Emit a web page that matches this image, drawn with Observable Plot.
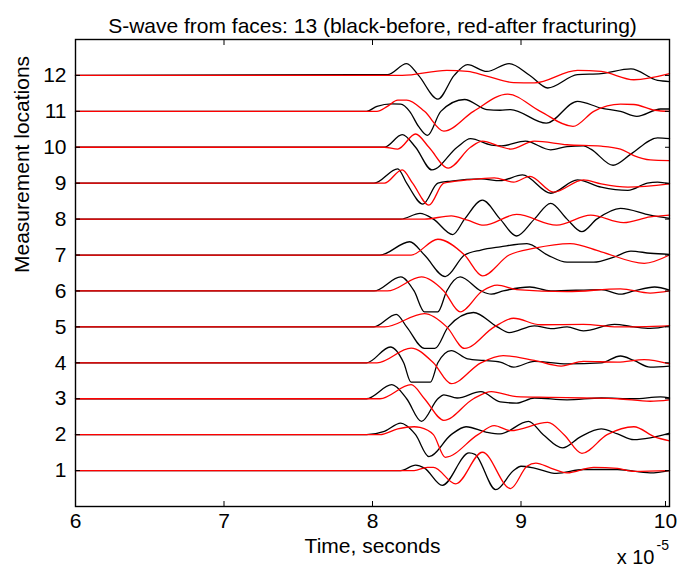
<!DOCTYPE html>
<html>
<head>
<meta charset="utf-8">
<script src="https://cdn.jsdelivr.net/npm/d3@7"></script>
<script src="https://cdn.jsdelivr.net/npm/@observablehq/plot@0.6"></script>
<style>
  html, body { margin: 0; padding: 0; background: #fff; }
</style>
</head>
<body>
<div id="chart"></div>
<script>
// Time values in units of 1e-5 s; amplitudes are offsets from each location's baseline.
const titleText = "S-wave from faces: 13 (black-before, red-after fracturing)";
const xLabel = "Time, seconds";
const yLabel = "Measurement locations";
const xTicks = [6, 7, 8, 9, 10];
const locations = [1, 2, 3, 4, 5, 6, 7, 8, 9, 10, 11, 12];

const black12 = [[6,0],[7.9,0.02],[8.1,0.02],[8.23,0.33],[8.31,0],[8.44,-0.66],[8.55,0],[8.64,0.3],[8.77,0.11],[8.92,0.33],[9.06,0],[9.18,-0.35],[9.38,0.02],[9.54,0.05],[9.74,0.18],[9.92,-0.14],[10,-0.17]];
const red12 = [[6,0],[8.2,0],[8.5,0.14],[8.64,0.11],[8.77,-0.02],[8.95,-0.2],[9.09,-0.21],[9.38,0.14],[9.54,0.11],[9.76,-0.12],[10,0.05]];
const black11 = [[6,0],[7.96,0],[8.03,0.14],[8.13,0.21],[8.19,0.2],[8.25,0],[8.31,-0.42],[8.37,-0.67],[8.46,0],[8.62,0.33],[8.77,0.05],[8.86,0.03],[8.93,0.05],[9.17,-0.33],[9.38,0.28],[9.54,0.09],[9.67,0],[9.78,-0.14],[9.94,0.065],[10,0.065]];
const red11 = [[6,0],[8.03,0],[8.1,0.14],[8.17,0.31],[8.23,0.31],[8.35,0],[8.48,-0.55],[8.68,0],[8.91,0.48],[9.13,0],[9.35,-0.42],[9.49,0],[9.67,0.2],[9.76,0.19],[9.9,0.03],[10,0]];
const black10 = [[6,0],[8.08,0],[8.2,0.35],[8.29,0],[8.4,-0.63],[8.57,0],[8.66,0.24],[8.8,0.06],[8.87,0.04],[9.03,0.17],[9.2,-0.07],[9.31,0.02],[9.42,0.04],[9.47,-0.05],[9.62,-0.5],[9.74,-0.19],[9.92,0.26],[10,0.24]];
const red10 = [[6,0],[8.08,0],[8.17,-0.05],[8.29,0.37],[8.38,0],[8.51,-0.58],[8.66,0],[8.74,0.17],[8.86,0.02],[8.93,-0.05],[9.09,0.17],[9.31,0.07],[9.54,0.03],[9.67,-0.05],[9.76,-0.23],[9.87,-0.35],[10,-0.37]];
const black9 = [[6,0],[8.01,0],[8.17,0.4],[8.23,0],[8.34,-0.58],[8.44,0],[8.53,0.06],[8.73,0.12],[8.86,0.07],[9.01,0.23],[9.2,-0.28],[9.38,0.09],[9.54,-0.11],[9.72,-0.2],[9.85,0],[9.92,0.03],[10,-0.02]];
const red9 = [[6,0],[8.08,0],[8.2,0.37],[8.27,0],[8.38,-0.61],[8.48,0],[8.64,0.09],[8.82,0.15],[8.95,0.03],[9.06,0.19],[9.22,-0.25],[9.42,0.09],[9.54,-0.02],[9.72,-0.11],[10,-0.02]];
const black8 = [[6,0],[8.19,0],[8.32,0.16],[8.41,0],[8.54,-0.43],[8.62,0],[8.74,0.53],[8.86,0],[8.97,-0.47],[9.09,0],[9.2,0.44],[9.31,0],[9.41,-0.35],[9.51,0],[9.67,0.3],[9.87,0.11],[10,0.02]];
const red8 = [[6,0],[8.35,0],[8.53,0.09],[8.64,-0.03],[8.75,-0.17],[8.97,0.13],[9.24,-0.17],[9.47,0.11],[9.69,-0.1],[9.87,0.06],[10,0.11]];
const black7 = [[6,0],[8.05,0],[8.25,0.37],[8.35,0],[8.49,-0.6],[8.62,0],[8.73,0.14],[8.86,0.23],[9.04,0.32],[9.18,0],[9.31,-0.2],[9.49,-0.2],[9.63,-0.05],[9.74,0.11],[9.87,0.05],[10,0.02]];
const red7 = [[6,0],[8.26,0],[8.44,0.44],[8.62,0],[8.74,-0.58],[8.92,0],[9.09,0.19],[9.33,0.32],[9.54,0.09],[9.83,-0.23],[10,0]];
const black6 = [[6,0],[8.01,0],[8.19,0.39],[8.28,0],[8.35,-0.58],[8.44,-0.58],[8.5,0],[8.59,0.39],[8.73,0],[8.8,-0.09],[8.88,0],[9.06,0.11],[9.2,0],[9.54,0.04],[9.67,-0.09],[9.76,0],[9.9,0.11],[10,0.02]];
const red6 = [[6,0],[8.1,0],[8.33,0.39],[8.48,0],[8.59,-0.58],[8.74,0],[8.84,0.16],[8.97,0.04],[9.31,-0.02],[9.67,0.06],[9.87,-0.06],[10,0]];
const black5 = [[6,0],[8.01,0],[8.16,0.35],[8.23,0],[8.35,-0.6],[8.42,-0.6],[8.51,0],[8.68,0.4],[8.84,0],[8.92,-0.16],[9.09,0.03],[9.2,-0.05],[9.31,0],[9.42,-0.11],[9.63,0.07],[9.76,0],[9.87,-0.04],[10,0.03]];
const red5 = [[6,0],[8.08,0],[8.35,0.37],[8.5,0],[8.62,-0.6],[8.82,0],[8.95,0.24],[9.13,0.06],[9.42,0.07],[9.65,0],[10,0.03]];
const black4 = [[6,0],[7.96,0],[8.12,0.44],[8.21,0],[8.26,-0.54],[8.39,-0.54],[8.44,0],[8.53,0.34],[8.64,0.11],[8.75,0.065],[8.86,0.02],[8.95,-0.12],[9.09,0.04],[9.31,-0.03],[9.54,0],[9.67,0.19],[9.76,0.065],[9.87,-0.12],[10,-0.09]];
const red4 = [[6,0],[8.03,0],[8.26,0.41],[8.41,0],[8.53,-0.58],[8.73,0],[8.88,0.2],[9.09,0.065],[9.27,-0.09],[9.42,0.04],[9.65,0.02],[9.83,0.09],[10,-0.03]];
const black3 = [[6,0],[7.96,0],[8.13,0.39],[8.23,0],[8.33,-0.63],[8.44,0],[8.48,0.11],[8.57,0.02],[8.73,0.2],[8.86,-0.09],[8.97,-0.12],[9.09,0.02],[9.31,-0.03],[9.54,0.02],[9.76,0],[9.94,0.05],[10,0.02]];
const red3 = [[6,0],[8.05,0],[8.26,0.39],[8.35,0],[8.48,-0.6],[8.68,0],[8.8,0.2],[8.97,0.06],[9.2,0.04],[9.42,0.02],[9.65,0],[9.87,-0.07],[10,-0.03]];
const black2 = [[6,0],[7.96,0],[8.08,0.09],[8.19,0.32],[8.23,0.25],[8.29,0],[8.38,-0.61],[8.53,0],[8.63,0.22],[8.77,0.065],[8.86,0.02],[9.05,0.37],[9.15,0],[9.28,-0.37],[9.4,-0.06],[9.54,0.16],[9.65,0.02],[9.76,-0.14],[9.87,-0.09],[10,0.04]];
const red2 = [[6,0],[8.05,0],[8.17,0.16],[8.28,0.22],[8.32,0.2],[8.41,0],[8.49,-0.63],[8.71,0],[8.82,0.25],[8.93,0.11],[9.18,0.34],[9.29,0],[9.41,-0.52],[9.58,0],[9.76,0.22],[9.9,-0.06],[10,-0.17]];
const black1 = [[6,0],[8.19,0],[8.29,0.15],[8.35,0.07],[8.47,-0.41],[8.65,0.49],[8.69,0.45],[8.83,-0.53],[8.95,0],[9,0.12],[9.09,0.07],[9.24,-0.08],[9.42,0.03],[9.65,0.03],[9.87,-0.065],[10,0]];
const red1 = [[6,0],[8.28,0],[8.37,0.09],[8.41,0.09],[8.56,-0.37],[8.74,0.51],[8.93,-0.5],[9.04,0.12],[9.1,0.21],[9.2,0.07],[9.31,-0.065],[9.49,0.09],[9.65,0.06],[9.76,-0.02],[10,0]];

const blackTraces = [black1, black2, black3, black4, black5, black6, black7, black8, black9, black10, black11, black12];
const redTraces = [red1, red2, red3, red4, red5, red6, red7, red8, red9, red10, red11, red12];

function rows(traces, kind) {
  const out = [];
  traces.forEach((tr, i) => {
    const loc = locations[i];
    tr.forEach(([t, a]) => out.push({t, y: loc + a, key: kind + loc}));
  });
  return out;
}
const blackData = rows(blackTraces, "b");
const redData = rows(redTraces, "r");

const font = "Liberation Sans, Arial, sans-serif";
const lastTick = xTicks[xTicks.length - 1];

const chart = Plot.plot({
  width: 679,
  height: 571,
  marginTop: 39,
  marginBottom: 65,
  marginLeft: 75,
  marginRight: 10,
  style: {fontFamily: font, fontSize: "21px", background: "#fff", color: "#000"},
  x: {domain: [6, 10]},
  y: {domain: [0, 13]},
  marks: [
    Plot.line(blackData, {x: "t", y: "y", z: "key", stroke: "#000", strokeWidth: 1.3, curve: "monotone-x"}),
    Plot.line(redData, {x: "t", y: "y", z: "key", stroke: "#ff0000", strokeWidth: 1.3, curve: "monotone-x"}),
    Plot.frame({stroke: "#000", strokeWidth: 1.4}),
    Plot.axisX({ticks: xTicks.slice(0, -1), tickSize: -5, tickPadding: 12, label: null, fontSize: 21, tickFormat: d => String(d)}),
    Plot.axisX({ticks: [lastTick], tickSize: -5, tickPadding: 12, label: null, fontSize: 21, dx: -4, tickFormat: d => String(d)}),
    Plot.axisX({anchor: "top", ticks: xTicks, tickSize: -5, label: null, tickFormat: () => ""}),
    Plot.axisY({ticks: locations, tickSize: -5, tickPadding: 14, label: null, fontSize: 21, tickFormat: d => String(d)}),
    Plot.axisY({anchor: "right", ticks: locations, tickSize: -5, label: null, tickFormat: () => ""}),
    Plot.text([titleText], {frameAnchor: "top", dy: -21, fontSize: 21}),
    Plot.text([xLabel], {frameAnchor: "bottom", dy: 46, fontSize: 21}),
    Plot.text([yLabel], {frameAnchor: "left", dx: -53, rotate: -90, fontSize: 21}),
    Plot.text(["x 10"], {frameAnchor: "bottom-right", textAnchor: "end", dx: -15, dy: 57, fontSize: 20}),
    Plot.text(["-5"], {frameAnchor: "bottom-right", textAnchor: "start", dx: -13, dy: 43, fontSize: 14})
  ]
});
document.getElementById("chart").appendChild(chart);
</script>
</body>
</html>
